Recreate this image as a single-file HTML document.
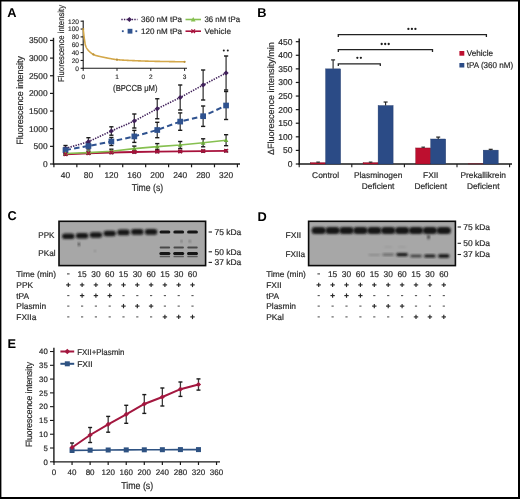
<!DOCTYPE html>
<html><head><meta charset="utf-8"><style>
html,body{margin:0;padding:0;background:#fff;}
#fig{position:relative;width:520px;height:499px;overflow:hidden;background:#fff;}
svg{position:absolute;left:0;top:0;will-change:transform;}
text{font-family:"Liberation Sans", sans-serif;text-rendering:geometricPrecision;}
</style></head><body><div id="fig">
<svg width="520" height="499" viewBox="0 0 520 499">
<defs><filter id="bl" x="-20%" y="-50%" width="140%" height="200%"><feGaussianBlur stdDeviation="0.85"/></filter><filter id="bl2" x="-20%" y="-80%" width="140%" height="260%"><feGaussianBlur stdDeviation="0.45"/></filter></defs>
<rect x="0.00" y="0.00" width="520.00" height="1.50" fill="#000" />
<rect x="0.00" y="0.00" width="1.40" height="499.00" fill="#000" />
<rect x="518.00" y="0.00" width="2.00" height="499.00" fill="#000" />
<rect x="0.00" y="497.00" width="520.00" height="2.00" fill="#000" />
<text x="7.20" y="17.00" font-size="12.8" text-anchor="start" fill="#000" font-weight="bold" >A</text>
<text x="257.20" y="17.00" font-size="12.8" text-anchor="start" fill="#000" font-weight="bold" >B</text>
<text x="7.60" y="220.20" font-size="12.8" text-anchor="start" fill="#000" font-weight="bold" >C</text>
<text x="257.60" y="220.80" font-size="12.8" text-anchor="start" fill="#000" font-weight="bold" >D</text>
<text x="7.60" y="347.60" font-size="12.8" text-anchor="start" fill="#000" font-weight="bold" >E</text>
<line x1="53.50" y1="37.80" x2="53.50" y2="164.50" stroke="#1a1a1a" stroke-width="1.4" />
<line x1="50.00" y1="164.00" x2="53.50" y2="164.00" stroke="#1a1a1a" stroke-width="1.2" />
<text x="47.60" y="167.00" font-size="8.4" text-anchor="end" fill="#2a2a2a" stroke="#2a2a2a" stroke-width="0.2" >0</text>
<line x1="50.00" y1="146.35" x2="53.50" y2="146.35" stroke="#1a1a1a" stroke-width="1.2" />
<text x="47.60" y="149.35" font-size="8.4" text-anchor="end" fill="#2a2a2a" stroke="#2a2a2a" stroke-width="0.2" >500</text>
<line x1="50.00" y1="128.70" x2="53.50" y2="128.70" stroke="#1a1a1a" stroke-width="1.2" />
<text x="47.60" y="131.70" font-size="8.4" text-anchor="end" fill="#2a2a2a" stroke="#2a2a2a" stroke-width="0.2" >1000</text>
<line x1="50.00" y1="111.05" x2="53.50" y2="111.05" stroke="#1a1a1a" stroke-width="1.2" />
<text x="47.60" y="114.05" font-size="8.4" text-anchor="end" fill="#2a2a2a" stroke="#2a2a2a" stroke-width="0.2" >1500</text>
<line x1="50.00" y1="93.40" x2="53.50" y2="93.40" stroke="#1a1a1a" stroke-width="1.2" />
<text x="47.60" y="96.40" font-size="8.4" text-anchor="end" fill="#2a2a2a" stroke="#2a2a2a" stroke-width="0.2" >2000</text>
<line x1="50.00" y1="75.75" x2="53.50" y2="75.75" stroke="#1a1a1a" stroke-width="1.2" />
<text x="47.60" y="78.75" font-size="8.4" text-anchor="end" fill="#2a2a2a" stroke="#2a2a2a" stroke-width="0.2" >2500</text>
<line x1="50.00" y1="58.10" x2="53.50" y2="58.10" stroke="#1a1a1a" stroke-width="1.2" />
<text x="47.60" y="61.10" font-size="8.4" text-anchor="end" fill="#2a2a2a" stroke="#2a2a2a" stroke-width="0.2" >3000</text>
<line x1="50.00" y1="40.45" x2="53.50" y2="40.45" stroke="#1a1a1a" stroke-width="1.2" />
<text x="47.60" y="43.45" font-size="8.4" text-anchor="end" fill="#2a2a2a" stroke="#2a2a2a" stroke-width="0.2" >3500</text>
<line x1="52.90" y1="164.00" x2="240.00" y2="164.00" stroke="#1a1a1a" stroke-width="1.3" />
<line x1="53.90" y1="164.00" x2="53.90" y2="167.30" stroke="#1a1a1a" stroke-width="1.2" />
<line x1="76.84" y1="164.00" x2="76.84" y2="167.30" stroke="#1a1a1a" stroke-width="1.2" />
<line x1="99.78" y1="164.00" x2="99.78" y2="167.30" stroke="#1a1a1a" stroke-width="1.2" />
<line x1="122.72" y1="164.00" x2="122.72" y2="167.30" stroke="#1a1a1a" stroke-width="1.2" />
<line x1="145.66" y1="164.00" x2="145.66" y2="167.30" stroke="#1a1a1a" stroke-width="1.2" />
<line x1="168.60" y1="164.00" x2="168.60" y2="167.30" stroke="#1a1a1a" stroke-width="1.2" />
<line x1="191.54" y1="164.00" x2="191.54" y2="167.30" stroke="#1a1a1a" stroke-width="1.2" />
<line x1="214.48" y1="164.00" x2="214.48" y2="167.30" stroke="#1a1a1a" stroke-width="1.2" />
<line x1="237.42" y1="164.00" x2="237.42" y2="167.30" stroke="#1a1a1a" stroke-width="1.2" />
<text x="65.50" y="178.10" font-size="8.4" text-anchor="middle" fill="#2a2a2a" stroke="#2a2a2a" stroke-width="0.2" >40</text>
<text x="88.44" y="178.10" font-size="8.4" text-anchor="middle" fill="#2a2a2a" stroke="#2a2a2a" stroke-width="0.2" >80</text>
<text x="111.38" y="178.10" font-size="8.4" text-anchor="middle" fill="#2a2a2a" stroke="#2a2a2a" stroke-width="0.2" >120</text>
<text x="134.32" y="178.10" font-size="8.4" text-anchor="middle" fill="#2a2a2a" stroke="#2a2a2a" stroke-width="0.2" >160</text>
<text x="157.26" y="178.10" font-size="8.4" text-anchor="middle" fill="#2a2a2a" stroke="#2a2a2a" stroke-width="0.2" >200</text>
<text x="180.20" y="178.10" font-size="8.4" text-anchor="middle" fill="#2a2a2a" stroke="#2a2a2a" stroke-width="0.2" >240</text>
<text x="203.14" y="178.10" font-size="8.4" text-anchor="middle" fill="#2a2a2a" stroke="#2a2a2a" stroke-width="0.2" >280</text>
<text x="226.08" y="178.10" font-size="8.4" text-anchor="middle" fill="#2a2a2a" stroke="#2a2a2a" stroke-width="0.2" >320</text>
<text x="147.40" y="191.30" font-size="10" text-anchor="middle" fill="#2a2a2a" stroke="#2a2a2a" stroke-width="0.2" textLength="31.4" lengthAdjust="spacingAndGlyphs" >Time (s)</text>
<text x="23.30" y="100.40" font-size="9.2" text-anchor="middle" fill="#2a2a2a" stroke="#2a2a2a" stroke-width="0.2" textLength="88.5" lengthAdjust="spacingAndGlyphs" transform="rotate(-90 23.30 100.40)" >Fluorescence intensity</text>
<line x1="65.50" y1="153.30" x2="65.50" y2="155.30" stroke="#3c3c3c" stroke-width="1.3" />
<line x1="63.40" y1="153.30" x2="67.60" y2="153.30" stroke="#1a1a1a" stroke-width="1.4" />
<line x1="63.40" y1="155.30" x2="67.60" y2="155.30" stroke="#1a1a1a" stroke-width="1.4" />
<line x1="88.44" y1="152.30" x2="88.44" y2="154.30" stroke="#3c3c3c" stroke-width="1.3" />
<line x1="86.34" y1="152.30" x2="90.54" y2="152.30" stroke="#1a1a1a" stroke-width="1.4" />
<line x1="86.34" y1="154.30" x2="90.54" y2="154.30" stroke="#1a1a1a" stroke-width="1.4" />
<line x1="111.38" y1="151.50" x2="111.38" y2="153.50" stroke="#3c3c3c" stroke-width="1.3" />
<line x1="109.28" y1="151.50" x2="113.48" y2="151.50" stroke="#1a1a1a" stroke-width="1.4" />
<line x1="109.28" y1="153.50" x2="113.48" y2="153.50" stroke="#1a1a1a" stroke-width="1.4" />
<line x1="134.32" y1="151.00" x2="134.32" y2="153.00" stroke="#3c3c3c" stroke-width="1.3" />
<line x1="132.22" y1="151.00" x2="136.42" y2="151.00" stroke="#1a1a1a" stroke-width="1.4" />
<line x1="132.22" y1="153.00" x2="136.42" y2="153.00" stroke="#1a1a1a" stroke-width="1.4" />
<line x1="157.26" y1="150.60" x2="157.26" y2="152.60" stroke="#3c3c3c" stroke-width="1.3" />
<line x1="155.16" y1="150.60" x2="159.36" y2="150.60" stroke="#1a1a1a" stroke-width="1.4" />
<line x1="155.16" y1="152.60" x2="159.36" y2="152.60" stroke="#1a1a1a" stroke-width="1.4" />
<line x1="180.20" y1="150.40" x2="180.20" y2="152.40" stroke="#3c3c3c" stroke-width="1.3" />
<line x1="178.10" y1="150.40" x2="182.30" y2="150.40" stroke="#1a1a1a" stroke-width="1.4" />
<line x1="178.10" y1="152.40" x2="182.30" y2="152.40" stroke="#1a1a1a" stroke-width="1.4" />
<line x1="203.14" y1="150.10" x2="203.14" y2="152.10" stroke="#3c3c3c" stroke-width="1.3" />
<line x1="201.04" y1="150.10" x2="205.24" y2="150.10" stroke="#1a1a1a" stroke-width="1.4" />
<line x1="201.04" y1="152.10" x2="205.24" y2="152.10" stroke="#1a1a1a" stroke-width="1.4" />
<line x1="226.08" y1="149.80" x2="226.08" y2="151.80" stroke="#3c3c3c" stroke-width="1.3" />
<line x1="223.98" y1="149.80" x2="228.18" y2="149.80" stroke="#1a1a1a" stroke-width="1.4" />
<line x1="223.98" y1="151.80" x2="228.18" y2="151.80" stroke="#1a1a1a" stroke-width="1.4" />
<line x1="65.50" y1="152.50" x2="65.50" y2="154.50" stroke="#3c3c3c" stroke-width="1.3" />
<line x1="63.40" y1="152.50" x2="67.60" y2="152.50" stroke="#1a1a1a" stroke-width="1.4" />
<line x1="63.40" y1="154.50" x2="67.60" y2="154.50" stroke="#1a1a1a" stroke-width="1.4" />
<line x1="88.44" y1="151.10" x2="88.44" y2="154.10" stroke="#3c3c3c" stroke-width="1.3" />
<line x1="86.34" y1="151.10" x2="90.54" y2="151.10" stroke="#1a1a1a" stroke-width="1.4" />
<line x1="86.34" y1="154.10" x2="90.54" y2="154.10" stroke="#1a1a1a" stroke-width="1.4" />
<line x1="111.38" y1="149.20" x2="111.38" y2="153.20" stroke="#3c3c3c" stroke-width="1.3" />
<line x1="109.28" y1="149.20" x2="113.48" y2="149.20" stroke="#1a1a1a" stroke-width="1.4" />
<line x1="109.28" y1="153.20" x2="113.48" y2="153.20" stroke="#1a1a1a" stroke-width="1.4" />
<line x1="134.32" y1="146.10" x2="134.32" y2="151.10" stroke="#3c3c3c" stroke-width="1.3" />
<line x1="132.22" y1="146.10" x2="136.42" y2="146.10" stroke="#1a1a1a" stroke-width="1.4" />
<line x1="132.22" y1="151.10" x2="136.42" y2="151.10" stroke="#1a1a1a" stroke-width="1.4" />
<line x1="157.26" y1="143.60" x2="157.26" y2="149.60" stroke="#3c3c3c" stroke-width="1.3" />
<line x1="155.16" y1="143.60" x2="159.36" y2="143.60" stroke="#1a1a1a" stroke-width="1.4" />
<line x1="155.16" y1="149.60" x2="159.36" y2="149.60" stroke="#1a1a1a" stroke-width="1.4" />
<line x1="180.20" y1="141.50" x2="180.20" y2="148.50" stroke="#3c3c3c" stroke-width="1.3" />
<line x1="178.10" y1="141.50" x2="182.30" y2="141.50" stroke="#1a1a1a" stroke-width="1.4" />
<line x1="178.10" y1="148.50" x2="182.30" y2="148.50" stroke="#1a1a1a" stroke-width="1.4" />
<line x1="203.14" y1="138.80" x2="203.14" y2="146.80" stroke="#3c3c3c" stroke-width="1.3" />
<line x1="201.04" y1="138.80" x2="205.24" y2="138.80" stroke="#1a1a1a" stroke-width="1.4" />
<line x1="201.04" y1="146.80" x2="205.24" y2="146.80" stroke="#1a1a1a" stroke-width="1.4" />
<line x1="226.08" y1="134.70" x2="226.08" y2="145.70" stroke="#3c3c3c" stroke-width="1.3" />
<line x1="223.98" y1="134.70" x2="228.18" y2="134.70" stroke="#1a1a1a" stroke-width="1.4" />
<line x1="223.98" y1="145.70" x2="228.18" y2="145.70" stroke="#1a1a1a" stroke-width="1.4" />
<line x1="65.50" y1="147.60" x2="65.50" y2="152.60" stroke="#3c3c3c" stroke-width="1.3" />
<line x1="63.40" y1="147.60" x2="67.60" y2="147.60" stroke="#1a1a1a" stroke-width="1.4" />
<line x1="63.40" y1="152.60" x2="67.60" y2="152.60" stroke="#1a1a1a" stroke-width="1.4" />
<line x1="88.44" y1="143.00" x2="88.44" y2="149.00" stroke="#3c3c3c" stroke-width="1.3" />
<line x1="86.34" y1="143.00" x2="90.54" y2="143.00" stroke="#1a1a1a" stroke-width="1.4" />
<line x1="86.34" y1="149.00" x2="90.54" y2="149.00" stroke="#1a1a1a" stroke-width="1.4" />
<line x1="111.38" y1="137.50" x2="111.38" y2="145.50" stroke="#3c3c3c" stroke-width="1.3" />
<line x1="109.28" y1="137.50" x2="113.48" y2="137.50" stroke="#1a1a1a" stroke-width="1.4" />
<line x1="109.28" y1="145.50" x2="113.48" y2="145.50" stroke="#1a1a1a" stroke-width="1.4" />
<line x1="134.32" y1="130.40" x2="134.32" y2="142.40" stroke="#3c3c3c" stroke-width="1.3" />
<line x1="132.22" y1="130.40" x2="136.42" y2="130.40" stroke="#1a1a1a" stroke-width="1.4" />
<line x1="132.22" y1="142.40" x2="136.42" y2="142.40" stroke="#1a1a1a" stroke-width="1.4" />
<line x1="157.26" y1="122.30" x2="157.26" y2="137.70" stroke="#3c3c3c" stroke-width="1.3" />
<line x1="155.16" y1="122.30" x2="159.36" y2="122.30" stroke="#1a1a1a" stroke-width="1.4" />
<line x1="155.16" y1="137.70" x2="159.36" y2="137.70" stroke="#1a1a1a" stroke-width="1.4" />
<line x1="180.20" y1="112.90" x2="180.20" y2="130.30" stroke="#3c3c3c" stroke-width="1.3" />
<line x1="178.10" y1="112.90" x2="182.30" y2="112.90" stroke="#1a1a1a" stroke-width="1.4" />
<line x1="178.10" y1="130.30" x2="182.30" y2="130.30" stroke="#1a1a1a" stroke-width="1.4" />
<line x1="203.14" y1="106.00" x2="203.14" y2="126.40" stroke="#3c3c3c" stroke-width="1.3" />
<line x1="201.04" y1="106.00" x2="205.24" y2="106.00" stroke="#1a1a1a" stroke-width="1.4" />
<line x1="201.04" y1="126.40" x2="205.24" y2="126.40" stroke="#1a1a1a" stroke-width="1.4" />
<line x1="226.08" y1="91.50" x2="226.08" y2="119.50" stroke="#3c3c3c" stroke-width="1.3" />
<line x1="223.98" y1="91.50" x2="228.18" y2="91.50" stroke="#1a1a1a" stroke-width="1.4" />
<line x1="223.98" y1="119.50" x2="228.18" y2="119.50" stroke="#1a1a1a" stroke-width="1.4" />
<line x1="65.50" y1="145.50" x2="65.50" y2="151.50" stroke="#3c3c3c" stroke-width="1.3" />
<line x1="63.40" y1="145.50" x2="67.60" y2="145.50" stroke="#1a1a1a" stroke-width="1.4" />
<line x1="63.40" y1="151.50" x2="67.60" y2="151.50" stroke="#1a1a1a" stroke-width="1.4" />
<line x1="88.44" y1="137.70" x2="88.44" y2="145.70" stroke="#3c3c3c" stroke-width="1.3" />
<line x1="86.34" y1="137.70" x2="90.54" y2="137.70" stroke="#1a1a1a" stroke-width="1.4" />
<line x1="86.34" y1="145.70" x2="90.54" y2="145.70" stroke="#1a1a1a" stroke-width="1.4" />
<line x1="111.38" y1="126.80" x2="111.38" y2="135.20" stroke="#3c3c3c" stroke-width="1.3" />
<line x1="109.28" y1="126.80" x2="113.48" y2="126.80" stroke="#1a1a1a" stroke-width="1.4" />
<line x1="109.28" y1="135.20" x2="113.48" y2="135.20" stroke="#1a1a1a" stroke-width="1.4" />
<line x1="134.32" y1="114.00" x2="134.32" y2="128.00" stroke="#3c3c3c" stroke-width="1.3" />
<line x1="132.22" y1="114.00" x2="136.42" y2="114.00" stroke="#1a1a1a" stroke-width="1.4" />
<line x1="132.22" y1="128.00" x2="136.42" y2="128.00" stroke="#1a1a1a" stroke-width="1.4" />
<line x1="157.26" y1="98.75" x2="157.26" y2="118.75" stroke="#3c3c3c" stroke-width="1.3" />
<line x1="155.16" y1="98.75" x2="159.36" y2="98.75" stroke="#1a1a1a" stroke-width="1.4" />
<line x1="155.16" y1="118.75" x2="159.36" y2="118.75" stroke="#1a1a1a" stroke-width="1.4" />
<line x1="180.20" y1="85.00" x2="180.20" y2="110.00" stroke="#3c3c3c" stroke-width="1.3" />
<line x1="178.10" y1="85.00" x2="182.30" y2="85.00" stroke="#1a1a1a" stroke-width="1.4" />
<line x1="178.10" y1="110.00" x2="182.30" y2="110.00" stroke="#1a1a1a" stroke-width="1.4" />
<line x1="203.14" y1="70.00" x2="203.14" y2="100.00" stroke="#3c3c3c" stroke-width="1.3" />
<line x1="201.04" y1="70.00" x2="205.24" y2="70.00" stroke="#1a1a1a" stroke-width="1.4" />
<line x1="201.04" y1="100.00" x2="205.24" y2="100.00" stroke="#1a1a1a" stroke-width="1.4" />
<line x1="226.08" y1="56.00" x2="226.08" y2="90.00" stroke="#3c3c3c" stroke-width="1.3" />
<line x1="223.98" y1="56.00" x2="228.18" y2="56.00" stroke="#1a1a1a" stroke-width="1.4" />
<line x1="223.98" y1="90.00" x2="228.18" y2="90.00" stroke="#1a1a1a" stroke-width="1.4" />
<polyline points="65.50,154.30 88.44,153.30 111.38,152.50 134.32,152.00 157.26,151.60 180.20,151.40 203.14,151.10 226.08,150.80" fill="none" stroke="#a8123c" stroke-width="1.8" />
<polyline points="65.50,153.50 88.44,152.60 111.38,151.20 134.32,148.60 157.26,146.60 180.20,145.00 203.14,142.80 226.08,140.20" fill="none" stroke="#86c050" stroke-width="1.6" />
<polyline points="65.50,150.10 88.44,146.00 111.38,141.50 134.32,136.40 157.26,130.00 180.20,121.60 203.14,116.20 226.08,105.50" fill="none" stroke="#2f528f" stroke-width="2.0" stroke-dasharray="5.5,3.2"/>
<polyline points="65.50,148.50 88.44,141.70 111.38,131.00 134.32,121.00 157.26,108.75 180.20,97.50 203.14,85.00 226.08,73.00" fill="none" stroke="#40205a" stroke-width="1.6" stroke-dasharray="1.4,1.2"/>
<polygon points="65.50,145.90 68.10,148.50 65.50,151.10 62.90,148.50" fill="#40205a"/>
<polygon points="88.44,139.10 91.04,141.70 88.44,144.30 85.84,141.70" fill="#40205a"/>
<polygon points="111.38,128.40 113.98,131.00 111.38,133.60 108.78,131.00" fill="#40205a"/>
<polygon points="134.32,118.40 136.92,121.00 134.32,123.60 131.72,121.00" fill="#40205a"/>
<polygon points="157.26,106.15 159.86,108.75 157.26,111.35 154.66,108.75" fill="#40205a"/>
<polygon points="180.20,94.90 182.80,97.50 180.20,100.10 177.60,97.50" fill="#40205a"/>
<polygon points="203.14,82.40 205.74,85.00 203.14,87.60 200.54,85.00" fill="#40205a"/>
<polygon points="226.08,70.40 228.68,73.00 226.08,75.60 223.48,73.00" fill="#40205a"/>
<rect x="62.65" y="147.25" width="5.70" height="5.70" fill="#2f528f" />
<rect x="85.59" y="143.15" width="5.70" height="5.70" fill="#2f528f" />
<rect x="108.53" y="138.65" width="5.70" height="5.70" fill="#2f528f" />
<rect x="131.47" y="133.55" width="5.70" height="5.70" fill="#2f528f" />
<rect x="154.41" y="127.15" width="5.70" height="5.70" fill="#2f528f" />
<rect x="177.35" y="118.75" width="5.70" height="5.70" fill="#2f528f" />
<rect x="200.29" y="113.35" width="5.70" height="5.70" fill="#2f528f" />
<rect x="223.23" y="102.65" width="5.70" height="5.70" fill="#2f528f" />
<polygon points="65.50,151.20 67.80,155.34 63.20,155.34" fill="#6aa83a"/>
<polygon points="88.44,150.30 90.74,154.44 86.14,154.44" fill="#6aa83a"/>
<polygon points="111.38,148.90 113.68,153.04 109.08,153.04" fill="#6aa83a"/>
<polygon points="134.32,146.30 136.62,150.44 132.02,150.44" fill="#6aa83a"/>
<polygon points="157.26,144.30 159.56,148.44 154.96,148.44" fill="#6aa83a"/>
<polygon points="180.20,142.70 182.50,146.84 177.90,146.84" fill="#6aa83a"/>
<polygon points="203.14,140.50 205.44,144.64 200.84,144.64" fill="#6aa83a"/>
<polygon points="226.08,137.90 228.38,142.04 223.78,142.04" fill="#6aa83a"/>
<line x1="63.70" y1="152.50" x2="67.30" y2="156.10" stroke="#a8123c" stroke-width="1.3" />
<line x1="63.70" y1="156.10" x2="67.30" y2="152.50" stroke="#a8123c" stroke-width="1.3" />
<line x1="86.64" y1="151.50" x2="90.24" y2="155.10" stroke="#a8123c" stroke-width="1.3" />
<line x1="86.64" y1="155.10" x2="90.24" y2="151.50" stroke="#a8123c" stroke-width="1.3" />
<line x1="109.58" y1="150.70" x2="113.18" y2="154.30" stroke="#a8123c" stroke-width="1.3" />
<line x1="109.58" y1="154.30" x2="113.18" y2="150.70" stroke="#a8123c" stroke-width="1.3" />
<line x1="132.52" y1="150.20" x2="136.12" y2="153.80" stroke="#a8123c" stroke-width="1.3" />
<line x1="132.52" y1="153.80" x2="136.12" y2="150.20" stroke="#a8123c" stroke-width="1.3" />
<line x1="155.46" y1="149.80" x2="159.06" y2="153.40" stroke="#a8123c" stroke-width="1.3" />
<line x1="155.46" y1="153.40" x2="159.06" y2="149.80" stroke="#a8123c" stroke-width="1.3" />
<line x1="178.40" y1="149.60" x2="182.00" y2="153.20" stroke="#a8123c" stroke-width="1.3" />
<line x1="178.40" y1="153.20" x2="182.00" y2="149.60" stroke="#a8123c" stroke-width="1.3" />
<line x1="201.34" y1="149.30" x2="204.94" y2="152.90" stroke="#a8123c" stroke-width="1.3" />
<line x1="201.34" y1="152.90" x2="204.94" y2="149.30" stroke="#a8123c" stroke-width="1.3" />
<line x1="224.28" y1="149.00" x2="227.88" y2="152.60" stroke="#a8123c" stroke-width="1.3" />
<line x1="224.28" y1="152.60" x2="227.88" y2="149.00" stroke="#a8123c" stroke-width="1.3" />
<circle cx="223.80" cy="50.60" r="1.0" fill="#1c1c1c"/>
<circle cx="227.80" cy="50.60" r="1.0" fill="#1c1c1c"/>
<line x1="121.30" y1="19.50" x2="137.50" y2="19.50" stroke="#40205a" stroke-width="1.6" stroke-dasharray="1.4,1.2"/>
<polygon points="129.40,17.00 131.90,19.50 129.40,22.00 126.90,19.50" fill="#40205a"/>
<text x="141.00" y="21.50" font-size="8" text-anchor="start" fill="#2a2a2a" stroke="#2a2a2a" stroke-width="0.2" textLength="41" lengthAdjust="spacingAndGlyphs" >360 nM tPa</text>
<rect x="121.90" y="30.30" width="1.80" height="1.80" fill="#2f528f" />
<rect x="135.40" y="30.30" width="1.80" height="1.80" fill="#2f528f" />
<rect x="127.60" y="28.80" width="4.80" height="4.80" fill="#2f528f" />
<text x="141.00" y="34.10" font-size="8" text-anchor="start" fill="#2a2a2a" stroke="#2a2a2a" stroke-width="0.2" textLength="41" lengthAdjust="spacingAndGlyphs" >120 nM tPa</text>
<line x1="185.50" y1="19.50" x2="201.00" y2="19.50" stroke="#86c050" stroke-width="1.6" />
<polygon points="193.20,17.10 195.60,21.42 190.80,21.42" fill="#86c050"/>
<text x="204.50" y="21.50" font-size="8" text-anchor="start" fill="#2a2a2a" stroke="#2a2a2a" stroke-width="0.2" textLength="35.5" lengthAdjust="spacingAndGlyphs" >36 nM tPa</text>
<line x1="185.50" y1="31.20" x2="201.00" y2="31.20" stroke="#a8123c" stroke-width="1.6" />
<line x1="191.40" y1="29.40" x2="195.00" y2="33.00" stroke="#a8123c" stroke-width="1.3" />
<line x1="191.40" y1="33.00" x2="195.00" y2="29.40" stroke="#a8123c" stroke-width="1.3" />
<text x="204.50" y="34.10" font-size="8" text-anchor="start" fill="#2a2a2a" stroke="#2a2a2a" stroke-width="0.2" textLength="26.5" lengthAdjust="spacingAndGlyphs" >Vehicle</text>
<line x1="83.20" y1="20.50" x2="83.20" y2="68.80" stroke="#1a1a1a" stroke-width="1.1" />
<line x1="80.60" y1="68.30" x2="83.20" y2="68.30" stroke="#1a1a1a" stroke-width="1.1" />
<text x="79.00" y="70.60" font-size="6.6" text-anchor="end" fill="#2a2a2a" stroke="#2a2a2a" stroke-width="0.15" >0</text>
<line x1="80.60" y1="60.45" x2="83.20" y2="60.45" stroke="#1a1a1a" stroke-width="1.1" />
<text x="79.00" y="62.75" font-size="6.6" text-anchor="end" fill="#2a2a2a" stroke="#2a2a2a" stroke-width="0.15" >20</text>
<line x1="80.60" y1="52.60" x2="83.20" y2="52.60" stroke="#1a1a1a" stroke-width="1.1" />
<text x="79.00" y="54.90" font-size="6.6" text-anchor="end" fill="#2a2a2a" stroke="#2a2a2a" stroke-width="0.15" >40</text>
<line x1="80.60" y1="44.75" x2="83.20" y2="44.75" stroke="#1a1a1a" stroke-width="1.1" />
<text x="79.00" y="47.05" font-size="6.6" text-anchor="end" fill="#2a2a2a" stroke="#2a2a2a" stroke-width="0.15" >60</text>
<line x1="80.60" y1="36.90" x2="83.20" y2="36.90" stroke="#1a1a1a" stroke-width="1.1" />
<text x="79.00" y="39.20" font-size="6.6" text-anchor="end" fill="#2a2a2a" stroke="#2a2a2a" stroke-width="0.15" >80</text>
<line x1="80.60" y1="29.05" x2="83.20" y2="29.05" stroke="#1a1a1a" stroke-width="1.1" />
<text x="79.00" y="31.35" font-size="6.6" text-anchor="end" fill="#2a2a2a" stroke="#2a2a2a" stroke-width="0.15" >100</text>
<line x1="80.60" y1="21.20" x2="83.20" y2="21.20" stroke="#1a1a1a" stroke-width="1.1" />
<text x="79.00" y="23.50" font-size="6.6" text-anchor="end" fill="#2a2a2a" stroke="#2a2a2a" stroke-width="0.15" >120</text>
<line x1="82.70" y1="68.30" x2="187.00" y2="68.30" stroke="#1a1a1a" stroke-width="1.1" />
<line x1="83.20" y1="68.30" x2="83.20" y2="70.90" stroke="#1a1a1a" stroke-width="1" />
<text x="83.20" y="79.10" font-size="6.5" text-anchor="middle" fill="#2a2a2a" stroke="#2a2a2a" stroke-width="0.15" >0</text>
<line x1="117.00" y1="68.30" x2="117.00" y2="70.90" stroke="#1a1a1a" stroke-width="1" />
<text x="117.00" y="79.10" font-size="6.5" text-anchor="middle" fill="#2a2a2a" stroke="#2a2a2a" stroke-width="0.15" >1</text>
<line x1="150.80" y1="68.30" x2="150.80" y2="70.90" stroke="#1a1a1a" stroke-width="1" />
<text x="150.80" y="79.10" font-size="6.5" text-anchor="middle" fill="#2a2a2a" stroke="#2a2a2a" stroke-width="0.15" >2</text>
<line x1="184.60" y1="68.30" x2="184.60" y2="70.90" stroke="#1a1a1a" stroke-width="1" />
<text x="184.60" y="79.10" font-size="6.5" text-anchor="middle" fill="#2a2a2a" stroke="#2a2a2a" stroke-width="0.15" >3</text>
<text x="135.30" y="91.00" font-size="8.7" text-anchor="middle" fill="#2a2a2a" stroke="#2a2a2a" stroke-width="0.2" textLength="44.4" lengthAdjust="spacingAndGlyphs" >(BPCCB μM)</text>
<text x="63.80" y="43.40" font-size="8.6" text-anchor="middle" fill="#2a2a2a" stroke="#2a2a2a" stroke-width="0.2" textLength="77" lengthAdjust="spacingAndGlyphs" transform="rotate(-90 63.80 43.40)" >Fluorescence intensity</text>
<polyline points="83.20,29.05 83.20,29.05 83.20,29.07 83.21,29.11 83.21,29.15 83.22,29.22 83.23,29.31 83.24,29.41 83.26,29.53 83.27,29.68 83.29,29.84 83.31,30.03 83.34,30.24 83.37,30.48 83.40,30.73 83.43,31.02 83.46,31.32 83.50,31.66 83.54,32.01 83.58,32.40 83.63,32.81 83.68,33.24 83.73,33.70 83.78,34.18 83.84,34.68 83.90,35.21 83.96,35.75 84.03,36.31 84.10,36.87 84.17,37.45 84.25,38.03 84.32,38.61 84.40,39.17 84.49,39.74 84.58,40.33 84.67,40.94 84.76,41.55 84.86,42.18 84.96,42.79 85.06,43.39 85.17,43.96 85.28,44.49 85.39,44.97 85.51,45.37 85.63,45.72 85.75,46.07 85.88,46.40 86.01,46.71 86.14,47.02 86.28,47.31 86.42,47.58 86.56,47.85 86.71,48.11 86.86,48.35 87.01,48.59 87.17,48.83 87.33,49.06 87.49,49.30 87.66,49.53 87.83,49.76 88.00,49.99 88.18,50.21 88.36,50.43 88.55,50.64 88.74,50.85 88.93,51.05 89.12,51.25 89.32,51.44 89.53,51.63 89.73,51.81 89.94,52.00 90.16,52.18 90.37,52.36 90.59,52.54 90.82,52.72 91.05,52.91 91.28,53.09 91.51,53.27 91.75,53.45 92.00,53.62 92.24,53.79 92.49,53.96 92.75,54.12 93.01,54.28 93.27,54.43 93.53,54.58 93.80,54.71 94.08,54.84 94.35,54.96 94.63,55.06 94.92,55.17 95.21,55.27 95.50,55.37 95.80,55.46 96.10,55.55 96.40,55.64 96.71,55.72 97.02,55.80 97.33,55.88 97.65,55.96 97.98,56.04 98.30,56.11 98.63,56.19 98.97,56.27 99.31,56.34 99.65,56.42 100.00,56.50 100.35,56.58 100.70,56.66 101.06,56.75 101.42,56.83 101.79,56.91 102.16,56.99 102.54,57.07 102.91,57.15 103.30,57.23 103.68,57.31 104.07,57.39 104.47,57.47 104.87,57.55 105.27,57.62 105.68,57.70 106.09,57.78 106.50,57.86 106.92,57.94 107.34,58.02 107.77,58.10 108.20,58.18 108.64,58.26 109.07,58.34 109.52,58.42 109.97,58.50 110.42,58.58 110.87,58.67 111.33,58.76 111.80,58.84 112.26,58.93 112.74,59.02 113.21,59.11 113.69,59.20 114.18,59.28 114.67,59.36 115.16,59.44 115.66,59.51 116.16,59.57 116.66,59.63 117.17,59.68 117.69,59.73 118.21,59.77 118.73,59.82 119.26,59.86 119.79,59.90 120.32,59.94 120.86,59.98 121.40,60.01 121.95,60.05 122.50,60.09 123.06,60.12 123.62,60.16 124.19,60.19 124.76,60.22 125.33,60.25 125.91,60.28 126.49,60.31 127.08,60.34 127.67,60.37 128.26,60.40 128.86,60.43 129.47,60.45 130.07,60.48 130.69,60.51 131.30,60.53 131.92,60.56 132.55,60.59 133.18,60.61 133.81,60.64 134.45,60.67 135.09,60.70 135.74,60.73 136.39,60.75 137.05,60.78 137.71,60.81 138.37,60.83 139.04,60.86 139.72,60.88 140.39,60.91 141.08,60.94 141.76,60.96 142.45,60.99 143.15,61.01 143.85,61.03 144.55,61.06 145.26,61.08 145.98,61.10 146.69,61.12 147.42,61.15 148.14,61.17 148.87,61.19 149.61,61.21 150.35,61.22 151.10,61.24 151.84,61.26 152.60,61.28 153.36,61.29 154.12,61.31 154.89,61.33 155.66,61.34 156.43,61.36 157.21,61.37 158.00,61.39 158.79,61.41 159.58,61.42 160.38,61.43 161.18,61.45 161.99,61.46 162.80,61.48 163.62,61.49 164.44,61.51 165.27,61.52 166.10,61.53 166.93,61.55 167.77,61.56 168.62,61.57 169.47,61.59 170.32,61.60 171.18,61.61 172.04,61.62 172.91,61.64 173.78,61.65 174.66,61.66 175.54,61.68 176.42,61.69 177.31,61.71 178.21,61.72 179.11,61.73 180.01,61.75 180.92,61.76 181.83,61.78 182.75,61.79 183.67,61.81 184.60,61.82" fill="none" stroke="#d4a84a" stroke-width="1.6" stroke-linejoin="round"/>
<circle cx="83.20" cy="29.05" r="1.1" fill="#b8903a"/>
<circle cx="93.34" cy="54.47" r="1.1" fill="#b8903a"/>
<circle cx="117.00" cy="59.66" r="1.1" fill="#b8903a"/>
<circle cx="184.60" cy="61.82" r="1.1" fill="#b8903a"/>
<line x1="299.20" y1="38.60" x2="299.20" y2="164.50" stroke="#1a1a1a" stroke-width="1.5" />
<line x1="295.80" y1="164.00" x2="299.20" y2="164.00" stroke="#1a1a1a" stroke-width="1.2" />
<text x="292.40" y="167.00" font-size="8.5" text-anchor="end" fill="#2a2a2a" stroke="#2a2a2a" stroke-width="0.2" >0</text>
<line x1="295.80" y1="150.41" x2="299.20" y2="150.41" stroke="#1a1a1a" stroke-width="1.2" />
<text x="292.40" y="153.41" font-size="8.5" text-anchor="end" fill="#2a2a2a" stroke="#2a2a2a" stroke-width="0.2" >50</text>
<line x1="295.80" y1="136.82" x2="299.20" y2="136.82" stroke="#1a1a1a" stroke-width="1.2" />
<text x="292.40" y="139.82" font-size="8.5" text-anchor="end" fill="#2a2a2a" stroke="#2a2a2a" stroke-width="0.2" >100</text>
<line x1="295.80" y1="123.23" x2="299.20" y2="123.23" stroke="#1a1a1a" stroke-width="1.2" />
<text x="292.40" y="126.23" font-size="8.5" text-anchor="end" fill="#2a2a2a" stroke="#2a2a2a" stroke-width="0.2" >150</text>
<line x1="295.80" y1="109.64" x2="299.20" y2="109.64" stroke="#1a1a1a" stroke-width="1.2" />
<text x="292.40" y="112.64" font-size="8.5" text-anchor="end" fill="#2a2a2a" stroke="#2a2a2a" stroke-width="0.2" >200</text>
<line x1="295.80" y1="96.05" x2="299.20" y2="96.05" stroke="#1a1a1a" stroke-width="1.2" />
<text x="292.40" y="99.05" font-size="8.5" text-anchor="end" fill="#2a2a2a" stroke="#2a2a2a" stroke-width="0.2" >250</text>
<line x1="295.80" y1="82.46" x2="299.20" y2="82.46" stroke="#1a1a1a" stroke-width="1.2" />
<text x="292.40" y="85.46" font-size="8.5" text-anchor="end" fill="#2a2a2a" stroke="#2a2a2a" stroke-width="0.2" >300</text>
<line x1="295.80" y1="68.87" x2="299.20" y2="68.87" stroke="#1a1a1a" stroke-width="1.2" />
<text x="292.40" y="71.87" font-size="8.5" text-anchor="end" fill="#2a2a2a" stroke="#2a2a2a" stroke-width="0.2" >350</text>
<line x1="295.80" y1="55.28" x2="299.20" y2="55.28" stroke="#1a1a1a" stroke-width="1.2" />
<text x="292.40" y="58.28" font-size="8.5" text-anchor="end" fill="#2a2a2a" stroke="#2a2a2a" stroke-width="0.2" >400</text>
<line x1="295.80" y1="41.69" x2="299.20" y2="41.69" stroke="#1a1a1a" stroke-width="1.2" />
<text x="292.40" y="44.69" font-size="8.5" text-anchor="end" fill="#2a2a2a" stroke="#2a2a2a" stroke-width="0.2" >450</text>
<line x1="298.60" y1="164.00" x2="512.00" y2="164.00" stroke="#1a1a1a" stroke-width="1.4" />
<line x1="299.20" y1="164.00" x2="299.20" y2="167.30" stroke="#1a1a1a" stroke-width="1.1" />
<line x1="351.80" y1="164.00" x2="351.80" y2="167.30" stroke="#1a1a1a" stroke-width="1.1" />
<line x1="404.40" y1="164.00" x2="404.40" y2="167.30" stroke="#1a1a1a" stroke-width="1.1" />
<line x1="457.00" y1="164.00" x2="457.00" y2="167.30" stroke="#1a1a1a" stroke-width="1.1" />
<line x1="509.60" y1="164.00" x2="509.60" y2="167.30" stroke="#1a1a1a" stroke-width="1.1" />
<text x="274.30" y="98.70" font-size="9" text-anchor="middle" fill="#2a2a2a" stroke="#2a2a2a" stroke-width="0.2" textLength="112.8" lengthAdjust="spacingAndGlyphs" transform="rotate(-90 274.30 98.70)" >ΔFluorescence intensity/min</text>
<rect x="310.60" y="162.64" width="15.00" height="1.36" fill="#bd0f2f" stroke="#7a0a20" stroke-width="0.4"/>
<rect x="325.60" y="68.87" width="15.00" height="95.13" fill="#2b4b86" stroke="#1d3566" stroke-width="0.4"/>
<line x1="318.10" y1="162.64" x2="318.10" y2="162.10" stroke="#222" stroke-width="1" />
<line x1="316.30" y1="162.10" x2="319.90" y2="162.10" stroke="#222" stroke-width="1.1" />
<line x1="333.10" y1="68.87" x2="333.10" y2="59.90" stroke="#222" stroke-width="1.1" />
<line x1="331.10" y1="59.90" x2="335.10" y2="59.90" stroke="#222" stroke-width="1.2" />
<rect x="363.10" y="162.64" width="15.00" height="1.36" fill="#bd0f2f" stroke="#7a0a20" stroke-width="0.4"/>
<rect x="378.10" y="105.56" width="15.00" height="58.44" fill="#2b4b86" stroke="#1d3566" stroke-width="0.4"/>
<line x1="370.60" y1="162.64" x2="370.60" y2="162.10" stroke="#222" stroke-width="1" />
<line x1="368.80" y1="162.10" x2="372.40" y2="162.10" stroke="#222" stroke-width="1.1" />
<line x1="385.60" y1="105.56" x2="385.60" y2="102.03" stroke="#222" stroke-width="1.1" />
<line x1="383.60" y1="102.03" x2="387.60" y2="102.03" stroke="#222" stroke-width="1.2" />
<rect x="415.70" y="147.96" width="15.00" height="16.04" fill="#bd0f2f" stroke="#7a0a20" stroke-width="0.4"/>
<rect x="430.70" y="138.99" width="15.00" height="25.01" fill="#2b4b86" stroke="#1d3566" stroke-width="0.4"/>
<line x1="423.20" y1="147.96" x2="423.20" y2="147.15" stroke="#222" stroke-width="1" />
<line x1="421.40" y1="147.15" x2="425.00" y2="147.15" stroke="#222" stroke-width="1.1" />
<line x1="438.20" y1="138.99" x2="438.20" y2="137.09" stroke="#222" stroke-width="1.1" />
<line x1="436.20" y1="137.09" x2="440.20" y2="137.09" stroke="#222" stroke-width="1.2" />
<rect x="468.20" y="163.86" width="15.00" height="0.14" fill="#bd0f2f" stroke="#7a0a20" stroke-width="0.4"/>
<rect x="483.20" y="150.14" width="15.00" height="13.86" fill="#2b4b86" stroke="#1d3566" stroke-width="0.4"/>
<line x1="490.70" y1="150.14" x2="490.70" y2="149.32" stroke="#222" stroke-width="1.1" />
<line x1="488.70" y1="149.32" x2="492.70" y2="149.32" stroke="#222" stroke-width="1.2" />
<text x="325.60" y="178.30" font-size="8.4" text-anchor="middle" fill="#2a2a2a" stroke="#2a2a2a" stroke-width="0.2" >Control</text>
<text x="378.10" y="178.30" font-size="8.4" text-anchor="middle" fill="#2a2a2a" stroke="#2a2a2a" stroke-width="0.2" >Plasminogen</text>
<text x="378.10" y="188.50" font-size="8.4" text-anchor="middle" fill="#2a2a2a" stroke="#2a2a2a" stroke-width="0.2" >Deficient</text>
<text x="430.70" y="178.30" font-size="8.4" text-anchor="middle" fill="#2a2a2a" stroke="#2a2a2a" stroke-width="0.2" >FXII</text>
<text x="430.70" y="188.50" font-size="8.4" text-anchor="middle" fill="#2a2a2a" stroke="#2a2a2a" stroke-width="0.2" >Deficient</text>
<text x="483.20" y="178.30" font-size="8.4" text-anchor="middle" fill="#2a2a2a" stroke="#2a2a2a" stroke-width="0.2" >Prekallikrein</text>
<text x="483.20" y="188.50" font-size="8.4" text-anchor="middle" fill="#2a2a2a" stroke="#2a2a2a" stroke-width="0.2" >Deficient</text>
<polyline points="338.3,66.00 338.3,63.80 380.30,63.80 380.30,66.00" fill="none" stroke="#222" stroke-width="1.3"/>
<polyline points="338.3,51.90 338.3,49.70 432.50,49.70 432.50,51.90" fill="none" stroke="#222" stroke-width="1.3"/>
<polyline points="338.3,36.90 338.3,34.70 486.40,34.70 486.40,36.90" fill="none" stroke="#222" stroke-width="1.3"/>
<circle cx="357.35" cy="57.80" r="1.15" fill="#1c1c1c"/>
<circle cx="360.85" cy="57.80" r="1.15" fill="#1c1c1c"/>
<circle cx="381.70" cy="44.00" r="1.15" fill="#1c1c1c"/>
<circle cx="385.20" cy="44.00" r="1.15" fill="#1c1c1c"/>
<circle cx="388.70" cy="44.00" r="1.15" fill="#1c1c1c"/>
<circle cx="408.40" cy="28.90" r="1.15" fill="#1c1c1c"/>
<circle cx="411.90" cy="28.90" r="1.15" fill="#1c1c1c"/>
<circle cx="415.40" cy="28.90" r="1.15" fill="#1c1c1c"/>
<rect x="459.40" y="51.00" width="4.90" height="4.70" fill="#bd0f2f" />
<text x="466.70" y="55.90" font-size="8.4" text-anchor="start" fill="#2a2a2a" stroke="#2a2a2a" stroke-width="0.2" textLength="26.3" lengthAdjust="spacingAndGlyphs" >Vehicle</text>
<rect x="459.40" y="63.00" width="4.90" height="4.50" fill="#2b4b86" />
<text x="466.70" y="68.10" font-size="8.4" text-anchor="start" fill="#2a2a2a" stroke="#2a2a2a" stroke-width="0.2" textLength="46.6" lengthAdjust="spacingAndGlyphs" >tPA (360 nM)</text>
<rect x="59.00" y="221.30" width="146.60" height="44.30" fill="#a7a7a7" stroke="#0a0a0a" stroke-width="1.6"/>
<rect x="62.10" y="233.40" width="12.40" height="5.60" rx="2.80" ry="2.80" fill="#161616" opacity="1.0" filter="url(#bl)"/>
<rect x="75.90" y="232.90" width="12.40" height="5.60" rx="2.80" ry="2.80" fill="#161616" opacity="1.0" filter="url(#bl)"/>
<rect x="89.70" y="232.20" width="12.40" height="5.60" rx="2.80" ry="2.80" fill="#161616" opacity="1.0" filter="url(#bl)"/>
<rect x="103.50" y="230.70" width="12.40" height="5.60" rx="2.80" ry="2.80" fill="#161616" opacity="1.0" filter="url(#bl)"/>
<rect x="117.30" y="229.60" width="12.40" height="5.60" rx="2.80" ry="2.80" fill="#161616" opacity="1.0" filter="url(#bl)"/>
<rect x="131.10" y="229.10" width="12.40" height="5.60" rx="2.80" ry="2.80" fill="#161616" opacity="1.0" filter="url(#bl)"/>
<rect x="144.90" y="229.10" width="12.40" height="5.60" rx="2.80" ry="2.80" fill="#161616" opacity="1.0" filter="url(#bl)"/>
<rect x="159.50" y="230.40" width="10.80" height="3.00" rx="1.50" ry="1.50" fill="#161616" opacity="1.0" filter="url(#bl2)"/>
<rect x="159.65" y="246.60" width="10.50" height="2.00" rx="1.00" ry="1.00" fill="#4a4a4a" opacity="1.0" filter="url(#bl2)"/>
<rect x="159.40" y="251.90" width="11.00" height="3.00" rx="1.50" ry="1.50" fill="#121212" opacity="1.0" filter="url(#bl2)"/>
<rect x="159.65" y="255.65" width="10.50" height="1.70" rx="0.85" ry="0.85" fill="#5a5a5a" opacity="1.0" filter="url(#bl2)"/>
<rect x="173.30" y="230.40" width="10.80" height="3.00" rx="1.50" ry="1.50" fill="#161616" opacity="1.0" filter="url(#bl2)"/>
<rect x="173.45" y="246.60" width="10.50" height="2.00" rx="1.00" ry="1.00" fill="#4a4a4a" opacity="1.0" filter="url(#bl2)"/>
<rect x="173.20" y="251.90" width="11.00" height="3.00" rx="1.50" ry="1.50" fill="#121212" opacity="1.0" filter="url(#bl2)"/>
<rect x="173.45" y="255.65" width="10.50" height="1.70" rx="0.85" ry="0.85" fill="#5a5a5a" opacity="1.0" filter="url(#bl2)"/>
<rect x="187.10" y="230.40" width="10.80" height="3.00" rx="1.50" ry="1.50" fill="#161616" opacity="1.0" filter="url(#bl2)"/>
<rect x="187.25" y="246.60" width="10.50" height="2.00" rx="1.00" ry="1.00" fill="#4a4a4a" opacity="1.0" filter="url(#bl2)"/>
<rect x="187.00" y="251.90" width="11.00" height="3.00" rx="1.50" ry="1.50" fill="#121212" opacity="1.0" filter="url(#bl2)"/>
<rect x="187.25" y="255.65" width="10.50" height="1.70" rx="0.85" ry="0.85" fill="#5a5a5a" opacity="1.0" filter="url(#bl2)"/>
<circle cx="181.5" cy="241.2" r="1" fill="#555" filter="url(#bl)"/>
<circle cx="189.7" cy="241.2" r="1" fill="#555" filter="url(#bl)"/>
<ellipse cx="78.9" cy="244.2" rx="0.9" ry="1.6" fill="#222" filter="url(#bl)"/>
<circle cx="95" cy="251" r="0.8" fill="#666" filter="url(#bl)"/>
<text x="38.30" y="237.90" font-size="8.4" text-anchor="start" fill="#2a2a2a" stroke="#2a2a2a" stroke-width="0.2" textLength="16.2" lengthAdjust="spacingAndGlyphs" >PPK</text>
<text x="38.30" y="256.20" font-size="8.4" text-anchor="start" fill="#2a2a2a" stroke="#2a2a2a" stroke-width="0.2" textLength="17.2" lengthAdjust="spacingAndGlyphs" >PKal</text>
<line x1="208.60" y1="232.00" x2="212.00" y2="232.00" stroke="#222" stroke-width="1.1" />
<text x="214.50" y="234.90" font-size="8.4" text-anchor="start" fill="#2a2a2a" stroke="#2a2a2a" stroke-width="0.2" textLength="26.8" lengthAdjust="spacingAndGlyphs" >75 kDa</text>
<line x1="208.60" y1="251.80" x2="212.00" y2="251.80" stroke="#222" stroke-width="1.1" />
<text x="214.50" y="254.70" font-size="8.4" text-anchor="start" fill="#2a2a2a" stroke="#2a2a2a" stroke-width="0.2" textLength="26.8" lengthAdjust="spacingAndGlyphs" >50 kDa</text>
<line x1="208.60" y1="262.40" x2="212.00" y2="262.40" stroke="#222" stroke-width="1.1" />
<text x="214.50" y="265.30" font-size="8.4" text-anchor="start" fill="#2a2a2a" stroke="#2a2a2a" stroke-width="0.2" textLength="26.8" lengthAdjust="spacingAndGlyphs" >37 kDa</text>
<text x="16.30" y="276.70" font-size="8.4" text-anchor="start" fill="#2a2a2a" stroke="#2a2a2a" stroke-width="0.2" >Time (min)</text>
<text x="16.30" y="287.90" font-size="8.4" text-anchor="start" fill="#2a2a2a" stroke="#2a2a2a" stroke-width="0.2" >PPK</text>
<text x="16.30" y="298.60" font-size="8.4" text-anchor="start" fill="#2a2a2a" stroke="#2a2a2a" stroke-width="0.2" >tPA</text>
<text x="16.30" y="309.10" font-size="8.4" text-anchor="start" fill="#2a2a2a" stroke="#2a2a2a" stroke-width="0.2" >Plasmin</text>
<text x="16.30" y="319.90" font-size="8.4" text-anchor="start" fill="#2a2a2a" stroke="#2a2a2a" stroke-width="0.2" >FXIIa</text>
<line x1="67.00" y1="273.90" x2="69.60" y2="273.90" stroke="#444" stroke-width="1.1" />
<line x1="66.10" y1="284.90" x2="70.50" y2="284.90" stroke="#2a2a2a" stroke-width="1.15" />
<line x1="68.30" y1="282.70" x2="68.30" y2="287.10" stroke="#2a2a2a" stroke-width="1.15" />
<line x1="67.20" y1="295.60" x2="69.40" y2="295.60" stroke="#555" stroke-width="1.1" />
<line x1="67.20" y1="306.10" x2="69.40" y2="306.10" stroke="#555" stroke-width="1.1" />
<line x1="67.20" y1="316.90" x2="69.40" y2="316.90" stroke="#555" stroke-width="1.1" />
<text x="82.10" y="276.70" font-size="8.4" text-anchor="middle" fill="#2a2a2a" stroke="#2a2a2a" stroke-width="0.2" >15</text>
<line x1="79.90" y1="284.90" x2="84.30" y2="284.90" stroke="#2a2a2a" stroke-width="1.15" />
<line x1="82.10" y1="282.70" x2="82.10" y2="287.10" stroke="#2a2a2a" stroke-width="1.15" />
<line x1="79.90" y1="295.60" x2="84.30" y2="295.60" stroke="#2a2a2a" stroke-width="1.15" />
<line x1="82.10" y1="293.40" x2="82.10" y2="297.80" stroke="#2a2a2a" stroke-width="1.15" />
<line x1="81.00" y1="306.10" x2="83.20" y2="306.10" stroke="#555" stroke-width="1.1" />
<line x1="81.00" y1="316.90" x2="83.20" y2="316.90" stroke="#555" stroke-width="1.1" />
<text x="95.90" y="276.70" font-size="8.4" text-anchor="middle" fill="#2a2a2a" stroke="#2a2a2a" stroke-width="0.2" >30</text>
<line x1="93.70" y1="284.90" x2="98.10" y2="284.90" stroke="#2a2a2a" stroke-width="1.15" />
<line x1="95.90" y1="282.70" x2="95.90" y2="287.10" stroke="#2a2a2a" stroke-width="1.15" />
<line x1="93.70" y1="295.60" x2="98.10" y2="295.60" stroke="#2a2a2a" stroke-width="1.15" />
<line x1="95.90" y1="293.40" x2="95.90" y2="297.80" stroke="#2a2a2a" stroke-width="1.15" />
<line x1="94.80" y1="306.10" x2="97.00" y2="306.10" stroke="#555" stroke-width="1.1" />
<line x1="94.80" y1="316.90" x2="97.00" y2="316.90" stroke="#555" stroke-width="1.1" />
<text x="109.70" y="276.70" font-size="8.4" text-anchor="middle" fill="#2a2a2a" stroke="#2a2a2a" stroke-width="0.2" >60</text>
<line x1="107.50" y1="284.90" x2="111.90" y2="284.90" stroke="#2a2a2a" stroke-width="1.15" />
<line x1="109.70" y1="282.70" x2="109.70" y2="287.10" stroke="#2a2a2a" stroke-width="1.15" />
<line x1="107.50" y1="295.60" x2="111.90" y2="295.60" stroke="#2a2a2a" stroke-width="1.15" />
<line x1="109.70" y1="293.40" x2="109.70" y2="297.80" stroke="#2a2a2a" stroke-width="1.15" />
<line x1="108.60" y1="306.10" x2="110.80" y2="306.10" stroke="#555" stroke-width="1.1" />
<line x1="108.60" y1="316.90" x2="110.80" y2="316.90" stroke="#555" stroke-width="1.1" />
<text x="123.50" y="276.70" font-size="8.4" text-anchor="middle" fill="#2a2a2a" stroke="#2a2a2a" stroke-width="0.2" >15</text>
<line x1="121.30" y1="284.90" x2="125.70" y2="284.90" stroke="#2a2a2a" stroke-width="1.15" />
<line x1="123.50" y1="282.70" x2="123.50" y2="287.10" stroke="#2a2a2a" stroke-width="1.15" />
<line x1="122.40" y1="295.60" x2="124.60" y2="295.60" stroke="#555" stroke-width="1.1" />
<line x1="121.30" y1="306.10" x2="125.70" y2="306.10" stroke="#2a2a2a" stroke-width="1.15" />
<line x1="123.50" y1="303.90" x2="123.50" y2="308.30" stroke="#2a2a2a" stroke-width="1.15" />
<line x1="122.40" y1="316.90" x2="124.60" y2="316.90" stroke="#555" stroke-width="1.1" />
<text x="137.30" y="276.70" font-size="8.4" text-anchor="middle" fill="#2a2a2a" stroke="#2a2a2a" stroke-width="0.2" >30</text>
<line x1="135.10" y1="284.90" x2="139.50" y2="284.90" stroke="#2a2a2a" stroke-width="1.15" />
<line x1="137.30" y1="282.70" x2="137.30" y2="287.10" stroke="#2a2a2a" stroke-width="1.15" />
<line x1="136.20" y1="295.60" x2="138.40" y2="295.60" stroke="#555" stroke-width="1.1" />
<line x1="135.10" y1="306.10" x2="139.50" y2="306.10" stroke="#2a2a2a" stroke-width="1.15" />
<line x1="137.30" y1="303.90" x2="137.30" y2="308.30" stroke="#2a2a2a" stroke-width="1.15" />
<line x1="136.20" y1="316.90" x2="138.40" y2="316.90" stroke="#555" stroke-width="1.1" />
<text x="151.10" y="276.70" font-size="8.4" text-anchor="middle" fill="#2a2a2a" stroke="#2a2a2a" stroke-width="0.2" >60</text>
<line x1="148.90" y1="284.90" x2="153.30" y2="284.90" stroke="#2a2a2a" stroke-width="1.15" />
<line x1="151.10" y1="282.70" x2="151.10" y2="287.10" stroke="#2a2a2a" stroke-width="1.15" />
<line x1="150.00" y1="295.60" x2="152.20" y2="295.60" stroke="#555" stroke-width="1.1" />
<line x1="148.90" y1="306.10" x2="153.30" y2="306.10" stroke="#2a2a2a" stroke-width="1.15" />
<line x1="151.10" y1="303.90" x2="151.10" y2="308.30" stroke="#2a2a2a" stroke-width="1.15" />
<line x1="150.00" y1="316.90" x2="152.20" y2="316.90" stroke="#555" stroke-width="1.1" />
<text x="164.90" y="276.70" font-size="8.4" text-anchor="middle" fill="#2a2a2a" stroke="#2a2a2a" stroke-width="0.2" >15</text>
<line x1="162.70" y1="284.90" x2="167.10" y2="284.90" stroke="#2a2a2a" stroke-width="1.15" />
<line x1="164.90" y1="282.70" x2="164.90" y2="287.10" stroke="#2a2a2a" stroke-width="1.15" />
<line x1="163.80" y1="295.60" x2="166.00" y2="295.60" stroke="#555" stroke-width="1.1" />
<line x1="163.80" y1="306.10" x2="166.00" y2="306.10" stroke="#555" stroke-width="1.1" />
<line x1="162.70" y1="316.90" x2="167.10" y2="316.90" stroke="#2a2a2a" stroke-width="1.15" />
<line x1="164.90" y1="314.70" x2="164.90" y2="319.10" stroke="#2a2a2a" stroke-width="1.15" />
<text x="178.70" y="276.70" font-size="8.4" text-anchor="middle" fill="#2a2a2a" stroke="#2a2a2a" stroke-width="0.2" >30</text>
<line x1="176.50" y1="284.90" x2="180.90" y2="284.90" stroke="#2a2a2a" stroke-width="1.15" />
<line x1="178.70" y1="282.70" x2="178.70" y2="287.10" stroke="#2a2a2a" stroke-width="1.15" />
<line x1="177.60" y1="295.60" x2="179.80" y2="295.60" stroke="#555" stroke-width="1.1" />
<line x1="177.60" y1="306.10" x2="179.80" y2="306.10" stroke="#555" stroke-width="1.1" />
<line x1="176.50" y1="316.90" x2="180.90" y2="316.90" stroke="#2a2a2a" stroke-width="1.15" />
<line x1="178.70" y1="314.70" x2="178.70" y2="319.10" stroke="#2a2a2a" stroke-width="1.15" />
<text x="192.50" y="276.70" font-size="8.4" text-anchor="middle" fill="#2a2a2a" stroke="#2a2a2a" stroke-width="0.2" >60</text>
<line x1="190.30" y1="284.90" x2="194.70" y2="284.90" stroke="#2a2a2a" stroke-width="1.15" />
<line x1="192.50" y1="282.70" x2="192.50" y2="287.10" stroke="#2a2a2a" stroke-width="1.15" />
<line x1="191.40" y1="295.60" x2="193.60" y2="295.60" stroke="#555" stroke-width="1.1" />
<line x1="191.40" y1="306.10" x2="193.60" y2="306.10" stroke="#555" stroke-width="1.1" />
<line x1="190.30" y1="316.90" x2="194.70" y2="316.90" stroke="#2a2a2a" stroke-width="1.15" />
<line x1="192.50" y1="314.70" x2="192.50" y2="319.10" stroke="#2a2a2a" stroke-width="1.15" />
<rect x="308.60" y="221.30" width="146.80" height="44.30" fill="#a7a7a7" stroke="#0a0a0a" stroke-width="1.6"/>
<rect x="311.55" y="227.00" width="14.30" height="7.00" rx="3.50" ry="3.50" fill="#161616" opacity="1.0" filter="url(#bl)"/>
<rect x="325.45" y="227.00" width="14.30" height="7.00" rx="3.50" ry="3.50" fill="#161616" opacity="1.0" filter="url(#bl)"/>
<rect x="339.35" y="227.00" width="14.30" height="7.00" rx="3.50" ry="3.50" fill="#161616" opacity="1.0" filter="url(#bl)"/>
<rect x="353.25" y="227.00" width="14.30" height="7.00" rx="3.50" ry="3.50" fill="#161616" opacity="1.0" filter="url(#bl)"/>
<rect x="367.15" y="227.00" width="14.30" height="7.00" rx="3.50" ry="3.50" fill="#161616" opacity="1.0" filter="url(#bl)"/>
<rect x="381.05" y="227.00" width="14.30" height="7.00" rx="3.50" ry="3.50" fill="#161616" opacity="1.0" filter="url(#bl)"/>
<rect x="394.95" y="227.00" width="14.30" height="7.00" rx="3.50" ry="3.50" fill="#161616" opacity="1.0" filter="url(#bl)"/>
<rect x="408.85" y="227.00" width="14.30" height="7.00" rx="3.50" ry="3.50" fill="#161616" opacity="1.0" filter="url(#bl)"/>
<rect x="422.75" y="227.00" width="14.30" height="7.00" rx="3.50" ry="3.50" fill="#161616" opacity="1.0" filter="url(#bl)"/>
<rect x="436.65" y="227.00" width="14.30" height="7.00" rx="3.50" ry="3.50" fill="#161616" opacity="1.0" filter="url(#bl)"/>
<rect x="368.55" y="253.90" width="11.50" height="1.60" rx="0.80" ry="0.80" fill="#141414" opacity="0.25" filter="url(#bl)"/>
<rect x="382.45" y="253.60" width="11.50" height="2.20" rx="1.10" ry="1.10" fill="#141414" opacity="0.45" filter="url(#bl)"/>
<rect x="396.35" y="253.10" width="11.50" height="3.20" rx="1.60" ry="1.60" fill="#141414" opacity="1.0" filter="url(#bl)"/>
<rect x="410.25" y="254.80" width="11.50" height="2.40" rx="1.20" ry="1.20" fill="#141414" opacity="0.75" filter="url(#bl)"/>
<rect x="424.15" y="254.50" width="11.50" height="3.00" rx="1.50" ry="1.50" fill="#141414" opacity="0.95" filter="url(#bl)"/>
<rect x="438.05" y="254.20" width="11.50" height="3.60" rx="1.80" ry="1.80" fill="#141414" opacity="1.0" filter="url(#bl)"/>
<rect x="384.20" y="245.90" width="8.00" height="1.80" rx="0.90" ry="0.90" fill="#888" opacity="0.35" filter="url(#bl)"/>
<rect x="398.10" y="245.90" width="8.00" height="1.80" rx="0.90" ry="0.90" fill="#888" opacity="0.35" filter="url(#bl)"/>
<ellipse cx="428.6" cy="237.0" rx="1.3" ry="2.2" fill="#3a3a3a" filter="url(#bl)"/>
<text x="285.50" y="238.30" font-size="8.4" text-anchor="start" fill="#2a2a2a" stroke="#2a2a2a" stroke-width="0.2" textLength="15.7" lengthAdjust="spacingAndGlyphs" >FXII</text>
<text x="285.50" y="257.10" font-size="8.4" text-anchor="start" fill="#2a2a2a" stroke="#2a2a2a" stroke-width="0.2" textLength="19.7" lengthAdjust="spacingAndGlyphs" >FXIIa</text>
<line x1="457.60" y1="227.00" x2="461.00" y2="227.00" stroke="#222" stroke-width="1.1" />
<text x="463.20" y="229.90" font-size="8.4" text-anchor="start" fill="#2a2a2a" stroke="#2a2a2a" stroke-width="0.2" textLength="26.8" lengthAdjust="spacingAndGlyphs" >75 kDa</text>
<line x1="457.60" y1="243.30" x2="461.00" y2="243.30" stroke="#222" stroke-width="1.1" />
<text x="463.20" y="246.20" font-size="8.4" text-anchor="start" fill="#2a2a2a" stroke="#2a2a2a" stroke-width="0.2" textLength="26.8" lengthAdjust="spacingAndGlyphs" >50 kDa</text>
<line x1="457.60" y1="254.50" x2="461.00" y2="254.50" stroke="#222" stroke-width="1.1" />
<text x="463.20" y="257.40" font-size="8.4" text-anchor="start" fill="#2a2a2a" stroke="#2a2a2a" stroke-width="0.2" textLength="26.8" lengthAdjust="spacingAndGlyphs" >37 kDa</text>
<text x="266.20" y="276.70" font-size="8.4" text-anchor="start" fill="#2a2a2a" stroke="#2a2a2a" stroke-width="0.2" >Time (min)</text>
<text x="266.20" y="287.90" font-size="8.4" text-anchor="start" fill="#2a2a2a" stroke="#2a2a2a" stroke-width="0.2" >FXII</text>
<text x="266.20" y="298.60" font-size="8.4" text-anchor="start" fill="#2a2a2a" stroke="#2a2a2a" stroke-width="0.2" >tPA</text>
<text x="266.20" y="309.10" font-size="8.4" text-anchor="start" fill="#2a2a2a" stroke="#2a2a2a" stroke-width="0.2" >Plasmin</text>
<text x="266.20" y="319.90" font-size="8.4" text-anchor="start" fill="#2a2a2a" stroke="#2a2a2a" stroke-width="0.2" >PKal</text>
<line x1="317.40" y1="273.90" x2="320.00" y2="273.90" stroke="#444" stroke-width="1.1" />
<line x1="316.50" y1="284.90" x2="320.90" y2="284.90" stroke="#2a2a2a" stroke-width="1.15" />
<line x1="318.70" y1="282.70" x2="318.70" y2="287.10" stroke="#2a2a2a" stroke-width="1.15" />
<line x1="317.60" y1="295.60" x2="319.80" y2="295.60" stroke="#555" stroke-width="1.1" />
<line x1="317.60" y1="306.10" x2="319.80" y2="306.10" stroke="#555" stroke-width="1.1" />
<line x1="317.60" y1="316.90" x2="319.80" y2="316.90" stroke="#555" stroke-width="1.1" />
<text x="332.60" y="276.70" font-size="8.4" text-anchor="middle" fill="#2a2a2a" stroke="#2a2a2a" stroke-width="0.2" >15</text>
<line x1="330.40" y1="284.90" x2="334.80" y2="284.90" stroke="#2a2a2a" stroke-width="1.15" />
<line x1="332.60" y1="282.70" x2="332.60" y2="287.10" stroke="#2a2a2a" stroke-width="1.15" />
<line x1="330.40" y1="295.60" x2="334.80" y2="295.60" stroke="#2a2a2a" stroke-width="1.15" />
<line x1="332.60" y1="293.40" x2="332.60" y2="297.80" stroke="#2a2a2a" stroke-width="1.15" />
<line x1="331.50" y1="306.10" x2="333.70" y2="306.10" stroke="#555" stroke-width="1.1" />
<line x1="331.50" y1="316.90" x2="333.70" y2="316.90" stroke="#555" stroke-width="1.1" />
<text x="346.50" y="276.70" font-size="8.4" text-anchor="middle" fill="#2a2a2a" stroke="#2a2a2a" stroke-width="0.2" >30</text>
<line x1="344.30" y1="284.90" x2="348.70" y2="284.90" stroke="#2a2a2a" stroke-width="1.15" />
<line x1="346.50" y1="282.70" x2="346.50" y2="287.10" stroke="#2a2a2a" stroke-width="1.15" />
<line x1="344.30" y1="295.60" x2="348.70" y2="295.60" stroke="#2a2a2a" stroke-width="1.15" />
<line x1="346.50" y1="293.40" x2="346.50" y2="297.80" stroke="#2a2a2a" stroke-width="1.15" />
<line x1="345.40" y1="306.10" x2="347.60" y2="306.10" stroke="#555" stroke-width="1.1" />
<line x1="345.40" y1="316.90" x2="347.60" y2="316.90" stroke="#555" stroke-width="1.1" />
<text x="360.40" y="276.70" font-size="8.4" text-anchor="middle" fill="#2a2a2a" stroke="#2a2a2a" stroke-width="0.2" >60</text>
<line x1="358.20" y1="284.90" x2="362.60" y2="284.90" stroke="#2a2a2a" stroke-width="1.15" />
<line x1="360.40" y1="282.70" x2="360.40" y2="287.10" stroke="#2a2a2a" stroke-width="1.15" />
<line x1="358.20" y1="295.60" x2="362.60" y2="295.60" stroke="#2a2a2a" stroke-width="1.15" />
<line x1="360.40" y1="293.40" x2="360.40" y2="297.80" stroke="#2a2a2a" stroke-width="1.15" />
<line x1="359.30" y1="306.10" x2="361.50" y2="306.10" stroke="#555" stroke-width="1.1" />
<line x1="359.30" y1="316.90" x2="361.50" y2="316.90" stroke="#555" stroke-width="1.1" />
<text x="374.30" y="276.70" font-size="8.4" text-anchor="middle" fill="#2a2a2a" stroke="#2a2a2a" stroke-width="0.2" >15</text>
<line x1="372.10" y1="284.90" x2="376.50" y2="284.90" stroke="#2a2a2a" stroke-width="1.15" />
<line x1="374.30" y1="282.70" x2="374.30" y2="287.10" stroke="#2a2a2a" stroke-width="1.15" />
<line x1="373.20" y1="295.60" x2="375.40" y2="295.60" stroke="#555" stroke-width="1.1" />
<line x1="372.10" y1="306.10" x2="376.50" y2="306.10" stroke="#2a2a2a" stroke-width="1.15" />
<line x1="374.30" y1="303.90" x2="374.30" y2="308.30" stroke="#2a2a2a" stroke-width="1.15" />
<line x1="373.20" y1="316.90" x2="375.40" y2="316.90" stroke="#555" stroke-width="1.1" />
<text x="388.20" y="276.70" font-size="8.4" text-anchor="middle" fill="#2a2a2a" stroke="#2a2a2a" stroke-width="0.2" >30</text>
<line x1="386.00" y1="284.90" x2="390.40" y2="284.90" stroke="#2a2a2a" stroke-width="1.15" />
<line x1="388.20" y1="282.70" x2="388.20" y2="287.10" stroke="#2a2a2a" stroke-width="1.15" />
<line x1="387.10" y1="295.60" x2="389.30" y2="295.60" stroke="#555" stroke-width="1.1" />
<line x1="386.00" y1="306.10" x2="390.40" y2="306.10" stroke="#2a2a2a" stroke-width="1.15" />
<line x1="388.20" y1="303.90" x2="388.20" y2="308.30" stroke="#2a2a2a" stroke-width="1.15" />
<line x1="387.10" y1="316.90" x2="389.30" y2="316.90" stroke="#555" stroke-width="1.1" />
<text x="402.10" y="276.70" font-size="8.4" text-anchor="middle" fill="#2a2a2a" stroke="#2a2a2a" stroke-width="0.2" >60</text>
<line x1="399.90" y1="284.90" x2="404.30" y2="284.90" stroke="#2a2a2a" stroke-width="1.15" />
<line x1="402.10" y1="282.70" x2="402.10" y2="287.10" stroke="#2a2a2a" stroke-width="1.15" />
<line x1="401.00" y1="295.60" x2="403.20" y2="295.60" stroke="#555" stroke-width="1.1" />
<line x1="399.90" y1="306.10" x2="404.30" y2="306.10" stroke="#2a2a2a" stroke-width="1.15" />
<line x1="402.10" y1="303.90" x2="402.10" y2="308.30" stroke="#2a2a2a" stroke-width="1.15" />
<line x1="401.00" y1="316.90" x2="403.20" y2="316.90" stroke="#555" stroke-width="1.1" />
<text x="416.00" y="276.70" font-size="8.4" text-anchor="middle" fill="#2a2a2a" stroke="#2a2a2a" stroke-width="0.2" >15</text>
<line x1="413.80" y1="284.90" x2="418.20" y2="284.90" stroke="#2a2a2a" stroke-width="1.15" />
<line x1="416.00" y1="282.70" x2="416.00" y2="287.10" stroke="#2a2a2a" stroke-width="1.15" />
<line x1="414.90" y1="295.60" x2="417.10" y2="295.60" stroke="#555" stroke-width="1.1" />
<line x1="414.90" y1="306.10" x2="417.10" y2="306.10" stroke="#555" stroke-width="1.1" />
<line x1="413.80" y1="316.90" x2="418.20" y2="316.90" stroke="#2a2a2a" stroke-width="1.15" />
<line x1="416.00" y1="314.70" x2="416.00" y2="319.10" stroke="#2a2a2a" stroke-width="1.15" />
<text x="429.90" y="276.70" font-size="8.4" text-anchor="middle" fill="#2a2a2a" stroke="#2a2a2a" stroke-width="0.2" >30</text>
<line x1="427.70" y1="284.90" x2="432.10" y2="284.90" stroke="#2a2a2a" stroke-width="1.15" />
<line x1="429.90" y1="282.70" x2="429.90" y2="287.10" stroke="#2a2a2a" stroke-width="1.15" />
<line x1="428.80" y1="295.60" x2="431.00" y2="295.60" stroke="#555" stroke-width="1.1" />
<line x1="428.80" y1="306.10" x2="431.00" y2="306.10" stroke="#555" stroke-width="1.1" />
<line x1="427.70" y1="316.90" x2="432.10" y2="316.90" stroke="#2a2a2a" stroke-width="1.15" />
<line x1="429.90" y1="314.70" x2="429.90" y2="319.10" stroke="#2a2a2a" stroke-width="1.15" />
<text x="443.80" y="276.70" font-size="8.4" text-anchor="middle" fill="#2a2a2a" stroke="#2a2a2a" stroke-width="0.2" >60</text>
<line x1="441.60" y1="284.90" x2="446.00" y2="284.90" stroke="#2a2a2a" stroke-width="1.15" />
<line x1="443.80" y1="282.70" x2="443.80" y2="287.10" stroke="#2a2a2a" stroke-width="1.15" />
<line x1="442.70" y1="295.60" x2="444.90" y2="295.60" stroke="#555" stroke-width="1.1" />
<line x1="442.70" y1="306.10" x2="444.90" y2="306.10" stroke="#555" stroke-width="1.1" />
<line x1="441.60" y1="316.90" x2="446.00" y2="316.90" stroke="#2a2a2a" stroke-width="1.15" />
<line x1="443.80" y1="314.70" x2="443.80" y2="319.10" stroke="#2a2a2a" stroke-width="1.15" />
<line x1="53.90" y1="347.80" x2="53.90" y2="462.30" stroke="#1a1a1a" stroke-width="1.4" />
<line x1="50.00" y1="461.80" x2="53.90" y2="461.80" stroke="#1a1a1a" stroke-width="1.1" />
<text x="47.80" y="464.60" font-size="7.8" text-anchor="end" fill="#2a2a2a" stroke="#2a2a2a" stroke-width="0.2" >0</text>
<line x1="50.00" y1="448.01" x2="53.90" y2="448.01" stroke="#1a1a1a" stroke-width="1.1" />
<text x="47.80" y="450.81" font-size="7.8" text-anchor="end" fill="#2a2a2a" stroke="#2a2a2a" stroke-width="0.2" >5</text>
<line x1="50.00" y1="434.23" x2="53.90" y2="434.23" stroke="#1a1a1a" stroke-width="1.1" />
<text x="47.80" y="437.03" font-size="7.8" text-anchor="end" fill="#2a2a2a" stroke="#2a2a2a" stroke-width="0.2" >10</text>
<line x1="50.00" y1="420.44" x2="53.90" y2="420.44" stroke="#1a1a1a" stroke-width="1.1" />
<text x="47.80" y="423.25" font-size="7.8" text-anchor="end" fill="#2a2a2a" stroke="#2a2a2a" stroke-width="0.2" >15</text>
<line x1="50.00" y1="406.66" x2="53.90" y2="406.66" stroke="#1a1a1a" stroke-width="1.1" />
<text x="47.80" y="409.46" font-size="7.8" text-anchor="end" fill="#2a2a2a" stroke="#2a2a2a" stroke-width="0.2" >20</text>
<line x1="50.00" y1="392.88" x2="53.90" y2="392.88" stroke="#1a1a1a" stroke-width="1.1" />
<text x="47.80" y="395.68" font-size="7.8" text-anchor="end" fill="#2a2a2a" stroke="#2a2a2a" stroke-width="0.2" >25</text>
<line x1="50.00" y1="379.09" x2="53.90" y2="379.09" stroke="#1a1a1a" stroke-width="1.1" />
<text x="47.80" y="381.89" font-size="7.8" text-anchor="end" fill="#2a2a2a" stroke="#2a2a2a" stroke-width="0.2" >30</text>
<line x1="50.00" y1="365.31" x2="53.90" y2="365.31" stroke="#1a1a1a" stroke-width="1.1" />
<text x="47.80" y="368.11" font-size="7.8" text-anchor="end" fill="#2a2a2a" stroke="#2a2a2a" stroke-width="0.2" >35</text>
<line x1="50.00" y1="351.52" x2="53.90" y2="351.52" stroke="#1a1a1a" stroke-width="1.1" />
<text x="47.80" y="354.32" font-size="7.8" text-anchor="end" fill="#2a2a2a" stroke="#2a2a2a" stroke-width="0.2" >40</text>
<line x1="53.30" y1="461.80" x2="220.00" y2="461.80" stroke="#1a1a1a" stroke-width="1.3" />
<line x1="54.00" y1="461.80" x2="54.00" y2="465.00" stroke="#1a1a1a" stroke-width="1.2" />
<text x="54.00" y="474.80" font-size="8" text-anchor="middle" fill="#2a2a2a" stroke="#2a2a2a" stroke-width="0.2" >0</text>
<line x1="72.06" y1="461.80" x2="72.06" y2="465.00" stroke="#1a1a1a" stroke-width="1.2" />
<text x="72.06" y="474.80" font-size="8" text-anchor="middle" fill="#2a2a2a" stroke="#2a2a2a" stroke-width="0.2" >40</text>
<line x1="90.12" y1="461.80" x2="90.12" y2="465.00" stroke="#1a1a1a" stroke-width="1.2" />
<text x="90.12" y="474.80" font-size="8" text-anchor="middle" fill="#2a2a2a" stroke="#2a2a2a" stroke-width="0.2" >80</text>
<line x1="108.18" y1="461.80" x2="108.18" y2="465.00" stroke="#1a1a1a" stroke-width="1.2" />
<text x="108.18" y="474.80" font-size="8" text-anchor="middle" fill="#2a2a2a" stroke="#2a2a2a" stroke-width="0.2" >120</text>
<line x1="126.24" y1="461.80" x2="126.24" y2="465.00" stroke="#1a1a1a" stroke-width="1.2" />
<text x="126.24" y="474.80" font-size="8" text-anchor="middle" fill="#2a2a2a" stroke="#2a2a2a" stroke-width="0.2" >160</text>
<line x1="144.30" y1="461.80" x2="144.30" y2="465.00" stroke="#1a1a1a" stroke-width="1.2" />
<text x="144.30" y="474.80" font-size="8" text-anchor="middle" fill="#2a2a2a" stroke="#2a2a2a" stroke-width="0.2" >200</text>
<line x1="162.36" y1="461.80" x2="162.36" y2="465.00" stroke="#1a1a1a" stroke-width="1.2" />
<text x="162.36" y="474.80" font-size="8" text-anchor="middle" fill="#2a2a2a" stroke="#2a2a2a" stroke-width="0.2" >240</text>
<line x1="180.42" y1="461.80" x2="180.42" y2="465.00" stroke="#1a1a1a" stroke-width="1.2" />
<text x="180.42" y="474.80" font-size="8" text-anchor="middle" fill="#2a2a2a" stroke="#2a2a2a" stroke-width="0.2" >280</text>
<line x1="198.48" y1="461.80" x2="198.48" y2="465.00" stroke="#1a1a1a" stroke-width="1.2" />
<text x="198.48" y="474.80" font-size="8" text-anchor="middle" fill="#2a2a2a" stroke="#2a2a2a" stroke-width="0.2" >320</text>
<line x1="216.54" y1="461.80" x2="216.54" y2="465.00" stroke="#1a1a1a" stroke-width="1.2" />
<text x="216.54" y="474.80" font-size="8" text-anchor="middle" fill="#2a2a2a" stroke="#2a2a2a" stroke-width="0.2" >360</text>
<text x="137.20" y="489.30" font-size="10" text-anchor="middle" fill="#2a2a2a" stroke="#2a2a2a" stroke-width="0.2" textLength="32" lengthAdjust="spacingAndGlyphs" >Time (s)</text>
<text x="32.40" y="404.60" font-size="9" text-anchor="middle" fill="#2a2a2a" stroke="#2a2a2a" stroke-width="0.2" textLength="85" lengthAdjust="spacingAndGlyphs" transform="rotate(-90 32.40 404.60)" >Fluorescence intensity</text>
<line x1="72.06" y1="443.00" x2="72.06" y2="452.00" stroke="#3c3c3c" stroke-width="1.3" />
<line x1="70.06" y1="443.00" x2="74.06" y2="443.00" stroke="#1a1a1a" stroke-width="1.4" />
<line x1="70.06" y1="452.00" x2="74.06" y2="452.00" stroke="#1a1a1a" stroke-width="1.4" />
<line x1="90.12" y1="427.50" x2="90.12" y2="442.50" stroke="#3c3c3c" stroke-width="1.3" />
<line x1="88.12" y1="427.50" x2="92.12" y2="427.50" stroke="#1a1a1a" stroke-width="1.4" />
<line x1="88.12" y1="442.50" x2="92.12" y2="442.50" stroke="#1a1a1a" stroke-width="1.4" />
<line x1="108.18" y1="416.40" x2="108.18" y2="432.20" stroke="#3c3c3c" stroke-width="1.3" />
<line x1="106.18" y1="416.40" x2="110.18" y2="416.40" stroke="#1a1a1a" stroke-width="1.4" />
<line x1="106.18" y1="432.20" x2="110.18" y2="432.20" stroke="#1a1a1a" stroke-width="1.4" />
<line x1="126.24" y1="405.30" x2="126.24" y2="423.30" stroke="#3c3c3c" stroke-width="1.3" />
<line x1="124.24" y1="405.30" x2="128.24" y2="405.30" stroke="#1a1a1a" stroke-width="1.4" />
<line x1="124.24" y1="423.30" x2="128.24" y2="423.30" stroke="#1a1a1a" stroke-width="1.4" />
<line x1="144.30" y1="394.60" x2="144.30" y2="413.40" stroke="#3c3c3c" stroke-width="1.3" />
<line x1="142.30" y1="394.60" x2="146.30" y2="394.60" stroke="#1a1a1a" stroke-width="1.4" />
<line x1="142.30" y1="413.40" x2="146.30" y2="413.40" stroke="#1a1a1a" stroke-width="1.4" />
<line x1="162.36" y1="388.00" x2="162.36" y2="406.00" stroke="#3c3c3c" stroke-width="1.3" />
<line x1="160.36" y1="388.00" x2="164.36" y2="388.00" stroke="#1a1a1a" stroke-width="1.4" />
<line x1="160.36" y1="406.00" x2="164.36" y2="406.00" stroke="#1a1a1a" stroke-width="1.4" />
<line x1="180.42" y1="382.00" x2="180.42" y2="396.40" stroke="#3c3c3c" stroke-width="1.3" />
<line x1="178.42" y1="382.00" x2="182.42" y2="382.00" stroke="#1a1a1a" stroke-width="1.4" />
<line x1="178.42" y1="396.40" x2="182.42" y2="396.40" stroke="#1a1a1a" stroke-width="1.4" />
<line x1="198.48" y1="378.90" x2="198.48" y2="390.10" stroke="#3c3c3c" stroke-width="1.3" />
<line x1="196.48" y1="378.90" x2="200.48" y2="378.90" stroke="#1a1a1a" stroke-width="1.4" />
<line x1="196.48" y1="390.10" x2="200.48" y2="390.10" stroke="#1a1a1a" stroke-width="1.4" />
<polyline points="72.06,450.40 90.12,450.20 108.18,450.00 126.24,449.90 144.30,449.80 162.36,449.70 180.42,449.60 198.48,449.60" fill="none" stroke="#2e5282" stroke-width="1.6" />
<polyline points="72.06,447.50 90.12,435.00 108.18,424.30 126.24,414.30 144.30,404.00 162.36,397.00 180.42,389.20 198.48,384.50" fill="none" stroke="#a3173f" stroke-width="2.0" />
<rect x="69.56" y="447.90" width="5.00" height="5.00" fill="#2e5282" />
<rect x="87.62" y="447.70" width="5.00" height="5.00" fill="#2e5282" />
<rect x="105.68" y="447.50" width="5.00" height="5.00" fill="#2e5282" />
<rect x="123.74" y="447.40" width="5.00" height="5.00" fill="#2e5282" />
<rect x="141.80" y="447.30" width="5.00" height="5.00" fill="#2e5282" />
<rect x="159.86" y="447.20" width="5.00" height="5.00" fill="#2e5282" />
<rect x="177.92" y="447.10" width="5.00" height="5.00" fill="#2e5282" />
<rect x="195.98" y="447.10" width="5.00" height="5.00" fill="#2e5282" />
<polygon points="72.06,444.90 74.66,447.50 72.06,450.10 69.46,447.50" fill="#a3173f"/>
<polygon points="90.12,432.40 92.72,435.00 90.12,437.60 87.52,435.00" fill="#a3173f"/>
<polygon points="108.18,421.70 110.78,424.30 108.18,426.90 105.58,424.30" fill="#a3173f"/>
<polygon points="126.24,411.70 128.84,414.30 126.24,416.90 123.64,414.30" fill="#a3173f"/>
<polygon points="144.30,401.40 146.90,404.00 144.30,406.60 141.70,404.00" fill="#a3173f"/>
<polygon points="162.36,394.40 164.96,397.00 162.36,399.60 159.76,397.00" fill="#a3173f"/>
<polygon points="180.42,386.60 183.02,389.20 180.42,391.80 177.82,389.20" fill="#a3173f"/>
<polygon points="198.48,381.90 201.08,384.50 198.48,387.10 195.88,384.50" fill="#a3173f"/>
<line x1="60.40" y1="351.50" x2="74.20" y2="351.50" stroke="#a3173f" stroke-width="2.0" />
<polygon points="67.30,348.70 70.10,351.50 67.30,354.30 64.50,351.50" fill="#a3173f"/>
<text x="77.20" y="354.90" font-size="8.4" text-anchor="start" fill="#2a2a2a" stroke="#2a2a2a" stroke-width="0.2" textLength="47.2" lengthAdjust="spacingAndGlyphs" >FXII+Plasmin</text>
<line x1="60.40" y1="363.80" x2="74.20" y2="363.80" stroke="#2e5282" stroke-width="2.0" />
<rect x="64.80" y="361.30" width="5.00" height="5.00" fill="#2e5282" />
<text x="77.20" y="366.70" font-size="8.4" text-anchor="start" fill="#2a2a2a" stroke="#2a2a2a" stroke-width="0.2" textLength="15.5" lengthAdjust="spacingAndGlyphs" >FXII</text>
</svg></div></body></html>
